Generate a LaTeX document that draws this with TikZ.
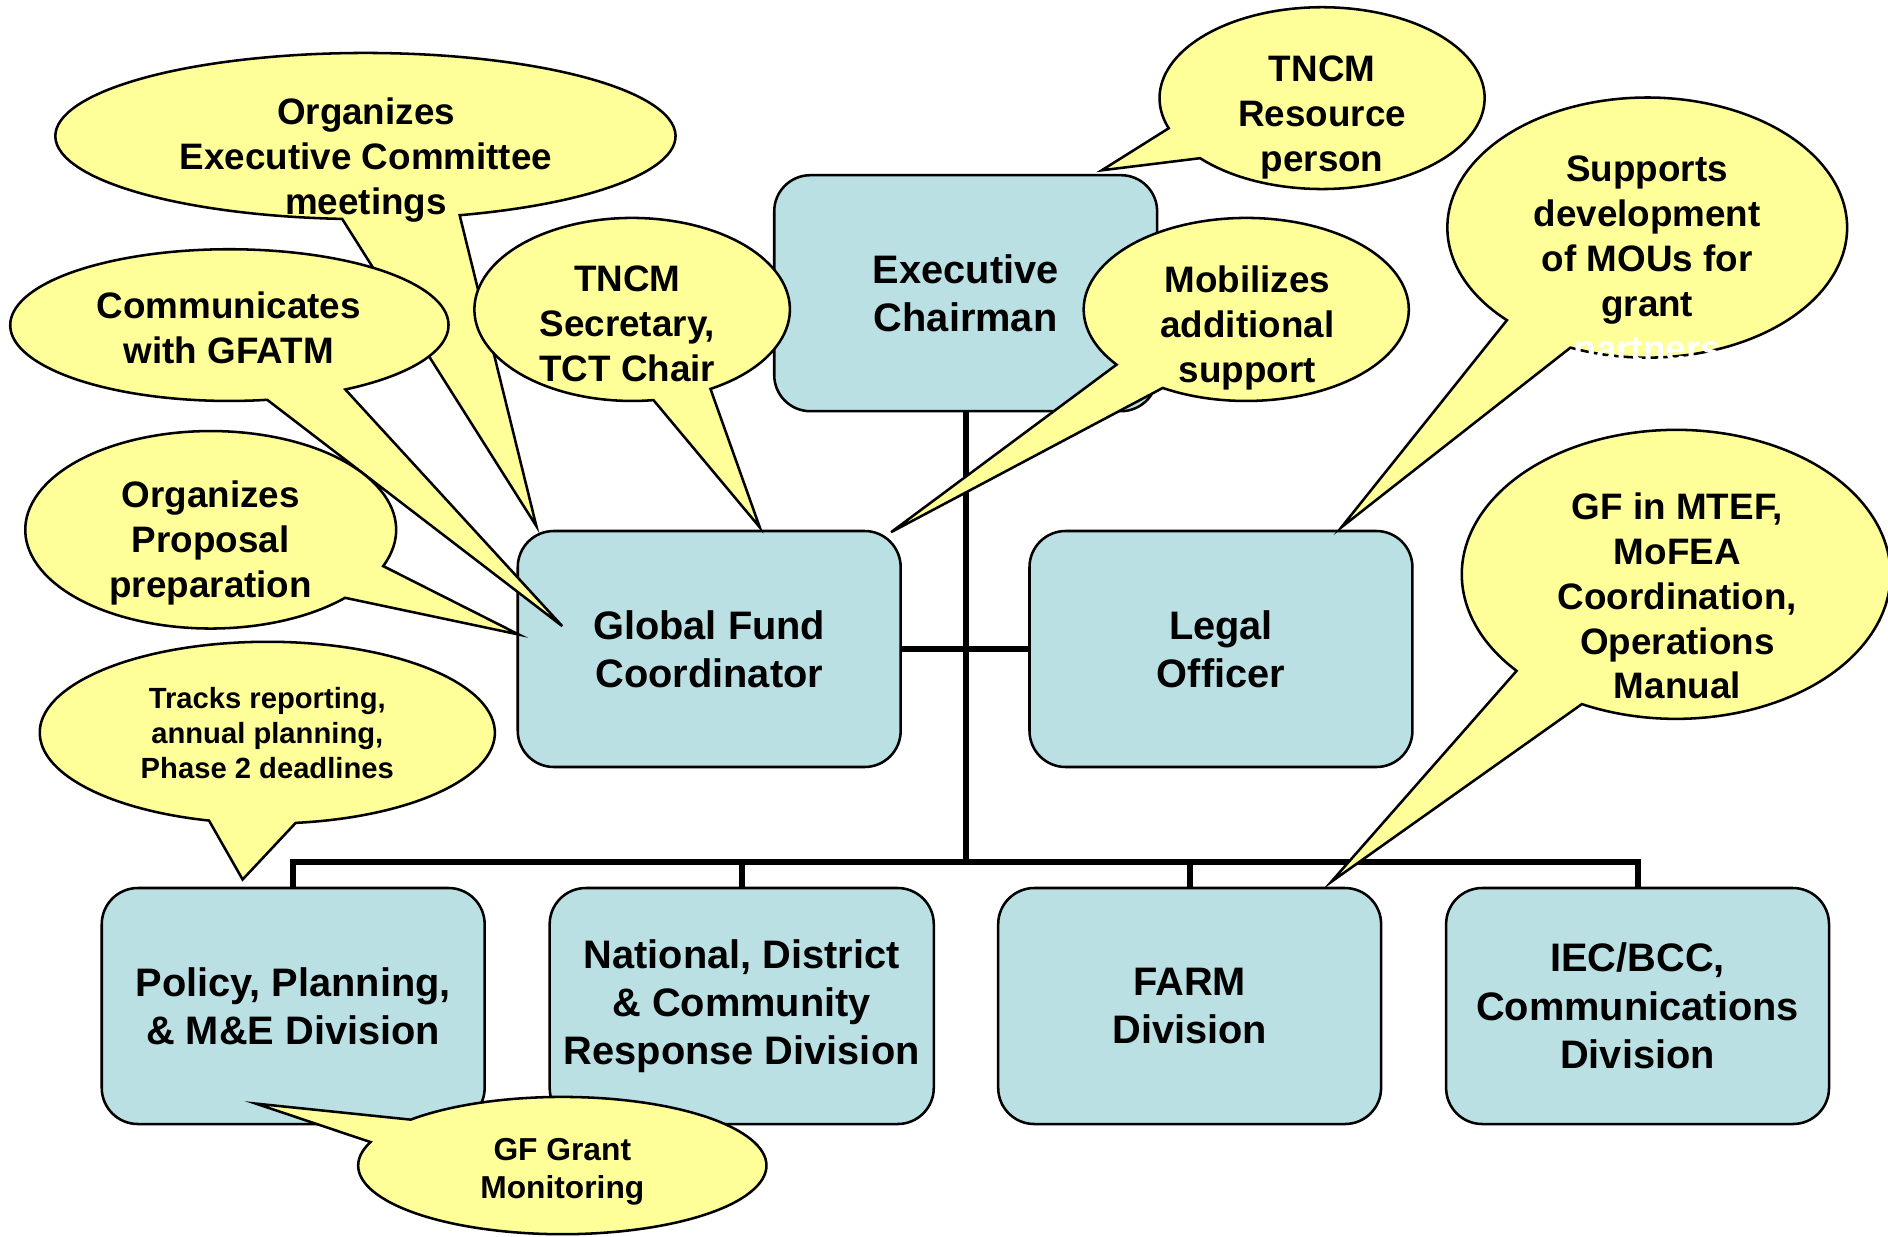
\documentclass[tikz,border=0pt]{standalone}
\usepackage{fontspec}
\setmainfont{Liberation Sans}
\usetikzlibrary{calc}
\definecolor{boxblue}{RGB}{186,224,227}
\definecolor{noteyellow}{RGB}{255,255,153}

% speech bubble: centre, x radius, y radius, tip
\newcommand{\bubble}[4]{%
  \draw[bubble] let \p1 = ($(#4)-(#1)$), \n1 = {atan2(\y1/(#3),\x1/(#2))} in
    (#1) ++(\n1+11:#2 and #3)
    arc[start angle=\n1+11, delta angle=338, x radius=#2, y radius=#3]
    -- (#4) -- cycle;}

\tikzset{
  unit/.style={draw, line width=0.6pt, fill=boxblue, rounded corners=0.3cm,
    minimum width=3.18cm, minimum height=1.96cm, align=center,
    font=\fontsize{9.4}{11.4}\selectfont\bfseries},
  link/.style={line width=1.4pt},
  bubble/.style={draw, line width=0.6pt, fill=noteyellow},
  note/.style={align=center, inner sep=0pt, font=\fontsize{8.7}{10.6}\selectfont\bfseries}
}

\begin{document}
\begin{tikzpicture}
    \useasboundingbox (0,0) rectangle (15.68,10.27);
    % units
    \node[unit] (ec) at (8.02,7.835) {Executive\\Chairman};
    \node[unit] (gfc) at (5.89,4.88) {Global Fund\\Coordinator};
    \node[unit] (lo) at (10.14,4.88) {Legal\\Officer};
    \node[unit] (ppm) at (2.435,1.915) {Policy, Planning,\\\& M\&E Division};
    \node[unit] (ndc) at (6.16,1.915) {National, District\\\& Community\\Response Division};
    \node[unit] (farm) at (9.88,1.915) {FARM\\Division};
    \node[unit] (iec) at (13.60,1.915) {IEC/BCC,\\Communications\\Division};
    % lines
    \coordinate (bus) at (0,3.11);
    \draw[link] (ec.south) -- (ec.south |- bus);
    \draw[link] (gfc.east) -- (lo.west);
    \draw[link] (ppm.north) |- (iec.north |- bus) -- (iec.north);
    \foreach \u in {ndc,farm}
        \draw[link] (\u.north) -- (\u.north |- bus);
    % tips of the bubbles
    \coordinate (meet-tip) at ($(gfc.north west)+(0.165,0.03)$);
    \coordinate (gfatm-tip) at ($(gfc.west)+(0.38,0.19)$);
    \coordinate (prop-tip) at ($(gfc.west)+(0.02,0.12)$);
    \coordinate (secr-tip) at ($(gfc.north)+(0.42,0.02)$);
    \coordinate (res-tip) at ($(ec.north)+(1.13,0.03)$);
    \coordinate (mob-tip) at ($(gfc.north east)+(-0.09,-0.02)$);
    \coordinate (mou-tip) at ($(lo.north)+(1.0,0.02)$);
    \coordinate (track-tip) at ($(ppm.north)+(-0.42,0.06)$);
    \coordinate (mtef-tip) at ($(farm.north)+(1.175,0.04)$);
    \coordinate (mon-tip) at ($(ppm.south)+(-0.31,0.18)$);
    % bubbles
    \bubble{3.035,9.14}{2.575cm}{0.69cm}{meet-tip}
    \bubble{5.25,7.70}{1.31cm}{0.76cm}{secr-tip}
    \bubble{1.905,7.57}{1.82cm}{0.63cm}{gfatm-tip}
    \bubble{1.75,5.87}{1.54cm}{0.82cm}{prop-tip}
    \bubble{10.98,9.455}{1.35cm}{0.755cm}{res-tip}
    \bubble{10.35,7.70}{1.35cm}{0.76cm}{mob-tip}
    \bubble{13.68,8.38}{1.66cm}{1.08cm}{mou-tip}
    \bubble{2.22,4.185}{1.89cm}{0.755cm}{track-tip}
    \bubble{13.92,5.50}{1.78cm}{1.20cm}{mtef-tip}
    \bubble{4.67,0.59}{1.695cm}{0.57cm}{mon-tip}
    % bubble texts
    \node[note] (meet) at (3.04,8.94) {Organizes\\Executive Committee\\meetings};
    \node[note] (secr) at (5.21,7.58) {TNCM\\Secretary,\\TCT Chair};
    \node[note] (gfatm) at (1.90,7.545) {Communicates\\with GFATM};
    \node[note] (prop) at (1.75,5.76) {Organizes\\Proposal\\preparation};
    \node[note] (res) at (10.98,9.295) {TNCM\\Resource\\person};
    \node[note] (mob) at (10.36,7.545) {Mobilizes\\additional\\support};
    \node[note] (mou) at (13.68,8.09) {Supports\\development\\of MOUs for\\grant\\\textcolor{white}{partners}};
    \node[note] (mtef) at (13.93,5.32) {GF in MTEF,\\MoFEA\\Coordination,\\Operations\\Manual};
    \node[note, font=\fontsize{6.9}{8.3}\selectfont\bfseries] (track) at (2.22,4.18) {Tracks reporting,\\annual planning,\\Phase 2 deadlines};
    \node[note, font=\fontsize{7.5}{9.1}\selectfont\bfseries] (mon) at (4.67,0.54) {GF Grant\\Monitoring};
\end{tikzpicture}
\end{document}
